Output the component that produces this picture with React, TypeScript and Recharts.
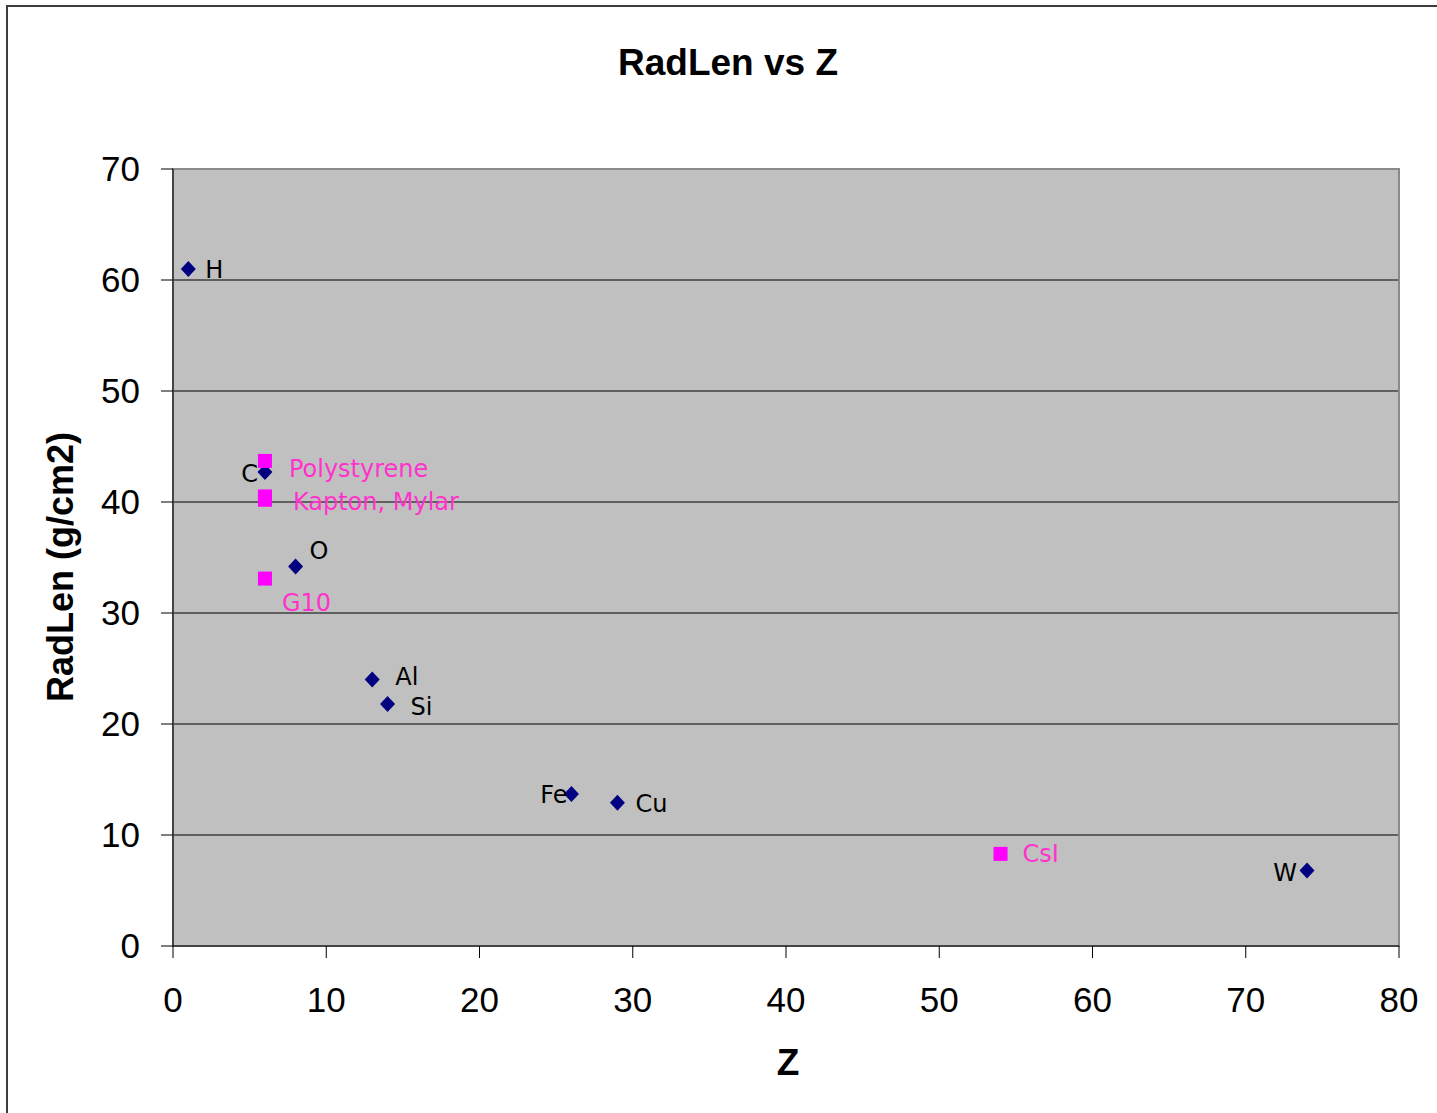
import React from "react";
import {
  ScatterChart,
  Scatter,
  XAxis,
  YAxis,
  CartesianGrid,
  ReferenceArea,
} from "recharts";

// ---- data ----
const elementNames = ["H", "C", "O", "Al", "Si", "Fe", "Cu", "W"];
const elementZ = [1, 6, 8, 13, 14, 26, 29, 74];
const elementRadLen = [61.0, 42.7, 34.2, 24.0, 21.8, 13.7, 12.9, 6.8];

const materialNames = ["Polystyrene", "Kapton", "Mylar", "G10", "CsI"];
const materialLabels = ["Polystyrene", "Kapton, Mylar", "", "G10", "CsI"];
const materialZ = [6, 6, 6, 6, 54];
const materialRadLen = [43.7, 40.5, 40.2, 33.1, 8.3];

const xTicks = [0, 10, 20, 30, 40, 50, 60, 70, 80];
const yTicks = [0, 10, 20, 30, 40, 50, 60, 70];
const gridValues = [10, 20, 30, 40, 50, 60];

const elementData = elementNames.map((n, i) => ({
  name: n,
  label: n,
  z: elementZ[i],
  r: elementRadLen[i],
}));
const materialData = materialNames.map((n, i) => ({
  name: n,
  label: materialLabels[i],
  z: materialZ[i],
  r: materialRadLen[i],
}));

// ---- label placement (styling) ----
type Place = { dx: number; dy: number; anchor: "start" | "end" };
const labelPlace: Record<string, Place> = {
  H: { dx: 17, dy: 1, anchor: "start" },
  C: { dx: -7, dy: 2, anchor: "end" },
  O: { dx: 14, dy: -15, anchor: "start" },
  Al: { dx: 23, dy: -3, anchor: "start" },
  Si: { dx: 23, dy: 3, anchor: "start" },
  Fe: { dx: -4, dy: 1, anchor: "end" },
  Cu: { dx: 18, dy: 1, anchor: "start" },
  W: { dx: -10, dy: 2, anchor: "end" },
  Polystyrene: { dx: 24, dy: 8, anchor: "start" },
  Kapton: { dx: 28, dy: 6, anchor: "start" },
  Mylar: { dx: 28, dy: 0, anchor: "start" },
  G10: { dx: 17, dy: 24, anchor: "start" },
  CsI: { dx: 22, dy: 0, anchor: "start" },
};

const NAVY = "#000080";
const MAGENTA = "#FF00FF";
const PINK_TEXT = "#FF33CC";
const LABEL_FONT = "'Comic Sans MS', 'DejaVu Sans', sans-serif";
const AXIS_FONT = "'Liberation Sans', Arial, sans-serif";

const DiamondShape = (props: any) => {
  const { cx, cy, payload } = props;
  if (cx == null || cy == null) return null;
  const p = labelPlace[payload.name] || { dx: 15, dy: 0, anchor: "start" };
  return (
    <g>
      <polygon
        points={`${cx - 7.5},${cy} ${cx},${cy - 8} ${cx + 7.5},${cy} ${cx},${cy + 8}`}
        fill={NAVY}
      />
      {payload.label ? (
        <text
          x={cx + p.dx}
          y={cy + p.dy}
          textAnchor={p.anchor}
          dominantBaseline="central"
          fontFamily={LABEL_FONT}
          fontSize={24}
          fill="#000"
        >
          {payload.label}
        </text>
      ) : null}
    </g>
  );
};

const SquareShape = (props: any) => {
  const { cx, cy, payload } = props;
  if (cx == null || cy == null) return null;
  const p = labelPlace[payload.name] || { dx: 15, dy: 0, anchor: "start" };
  return (
    <g>
      <rect x={cx - 7} y={cy - 7} width={14} height={14} fill={MAGENTA} />
      {payload.label ? (
        <text
          x={cx + p.dx}
          y={cy + p.dy}
          textAnchor={p.anchor}
          dominantBaseline="central"
          fontFamily={LABEL_FONT}
          fontSize={24}
          fill={PINK_TEXT}
        >
          {payload.label}
        </text>
      ) : null}
    </g>
  );
};

export default function App() {
  return (
    <div
      style={{
        position: "absolute",
        left: 0,
        top: 0,
        width: 1437,
        height: 1113,
        overflow: "hidden",
        background: "#fff",
      }}
    >
      <div
        style={{
          position: "absolute",
          left: 6,
          top: 5,
          width: 1500,
          height: 1200,
          border: "2px solid #3c3c3c",
          boxSizing: "border-box",
        }}
      />
      <div style={{ position: "absolute", left: 0, top: 0 }}>
        <ScatterChart
          width={1437}
          height={1113}
          margin={{ top: 169, right: 38, bottom: 107, left: 73 }}
        >
          <CartesianGrid
            horizontal={true}
            vertical={false}
            fill="#C0C0C0"
            stroke="#000"
            strokeWidth={1}
            horizontalValues={gridValues}
          />
          <ReferenceArea
            x1={0}
            x2={80}
            y1={0}
            y2={70}
            fill="none"
            stroke="#8a8a8a"
            strokeWidth={2}
            ifOverflow="visible"
          />
          <XAxis
            type="number"
            dataKey="z"
            domain={[0, 80]}
            ticks={xTicks}
            interval={0}
            height={60}
            tickSize={12}
            tickMargin={29}
            stroke="#000"
            axisLine={{ stroke: "#000", strokeWidth: 1 }}
            tickLine={{ stroke: "#000" }}
            tick={{ fontFamily: AXIS_FONT, fontSize: 35, fill: "#000" }}
            allowDataOverflow
          />
          <YAxis
            type="number"
            dataKey="r"
            domain={[0, 70]}
            ticks={yTicks}
            interval={0}
            width={100}
            tickSize={12}
            tickMargin={21}
            stroke="#000"
            axisLine={{ stroke: "#000", strokeWidth: 1 }}
            tickLine={{ stroke: "#000" }}
            tick={{ fontFamily: AXIS_FONT, fontSize: 35, fill: "#000" }}
            allowDataOverflow
          />
          <Scatter
            name="Elements"
            data={elementData}
            shape={DiamondShape}
            isAnimationActive={false}
          />
          <Scatter
            name="Materials"
            data={materialData}
            shape={SquareShape}
            isAnimationActive={false}
          />
        </ScatterChart>
      </div>
      <svg
        width={1437}
        height={1113}
        style={{ position: "absolute", left: 0, top: 0, pointerEvents: "none" }}
      >
        <text
          x={728}
          y={75}
          textAnchor="middle"
          fontFamily={AXIS_FONT}
          fontWeight="bold"
          fontSize={37}
          fill="#000"
        >
          RadLen vs Z
        </text>
        <text
          x={788}
          y={1075}
          textAnchor="middle"
          fontFamily={AXIS_FONT}
          fontWeight="bold"
          fontSize={37}
          fill="#000"
        >
          Z
        </text>
        <text
          transform="translate(73,567) rotate(-90)"
          x={0}
          y={0}
          textAnchor="middle"
          fontFamily={AXIS_FONT}
          fontWeight="bold"
          fontSize={36}
          fill="#000"
        >
          RadLen (g/cm2)
        </text>
      </svg>
    </div>
  );
}
